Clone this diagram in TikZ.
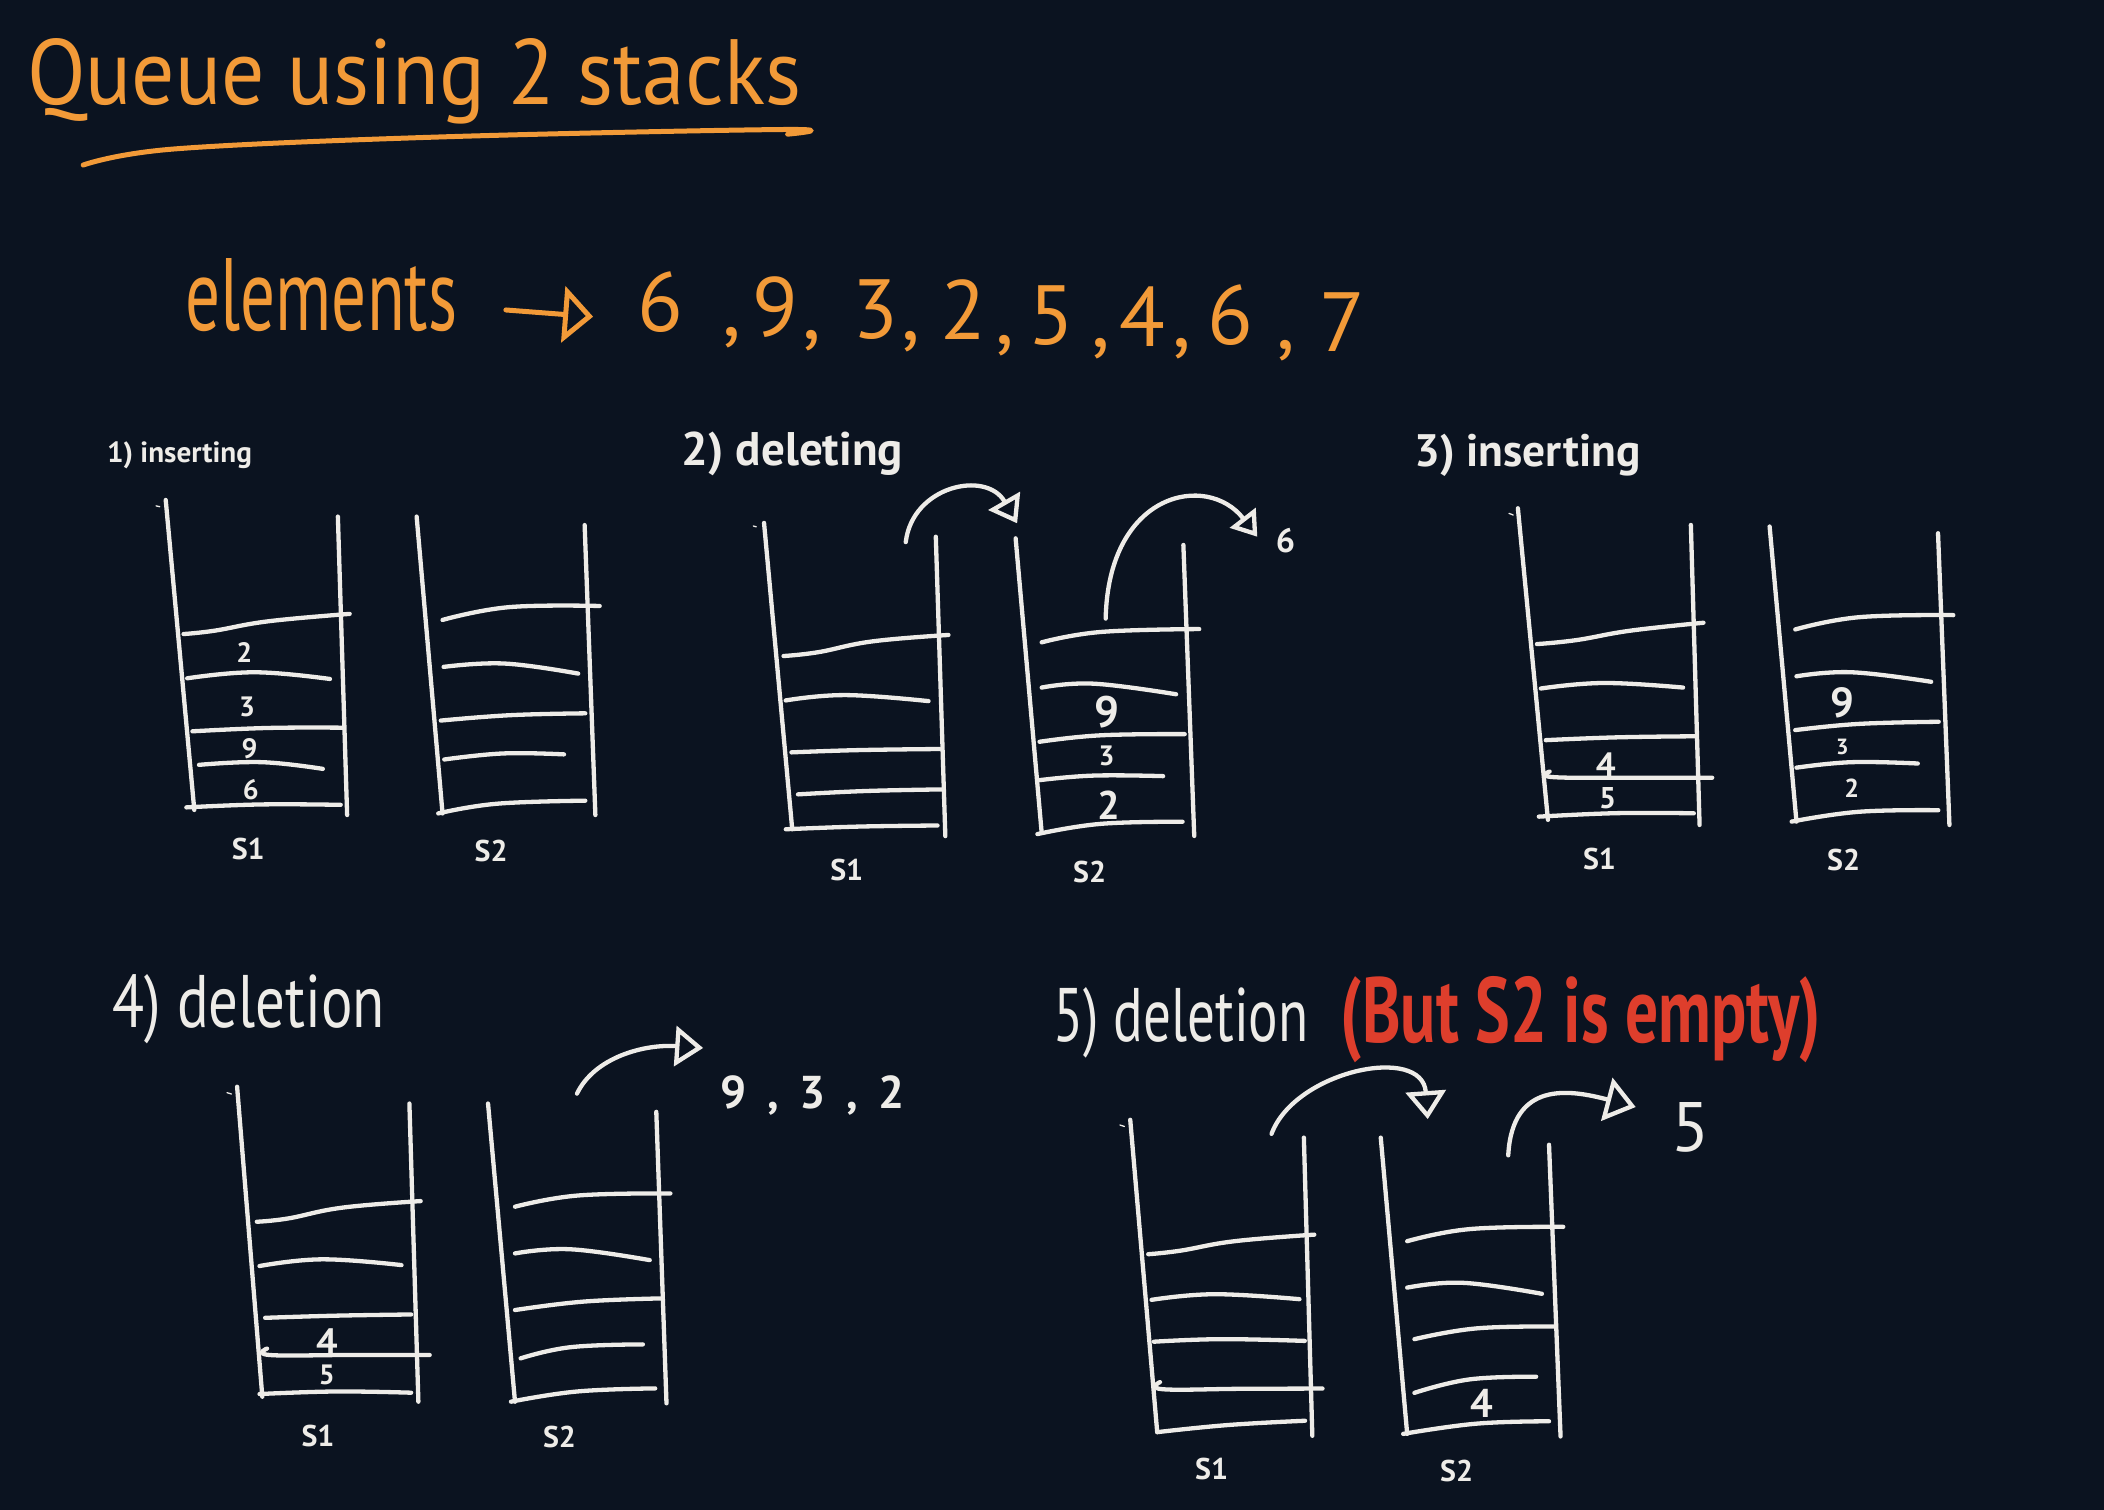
\documentclass[tikz,border=0pt]{standalone}
\usepackage{fontspec}
\setmainfont{PT Sans}
\usepackage{graphicx}
\usetikzlibrary{arrows.meta}
\definecolor{bg}{RGB}{11,19,32}
\definecolor{ink}{RGB}{238,236,232}
\definecolor{orng}{RGB}{242,154,56}
\definecolor{rd}{RGB}{222,62,44}
\newcommand\shelf[1]{\draw[wl] plot[smooth,tension=0.7] coordinates {#1};}
\newcommand\fitw[2]{\resizebox{#1pt}{!}{#2}}
\newcommand\cma{,}
\begin{document}
\begin{tikzpicture}[x=1.3418pt,y=-1.3418pt,
  wl/.style={draw=ink,line width=4.3pt,line cap=round,line join=round},
  ol/.style={draw=orng,line width=5pt,line cap=round,line join=round},
  tk/.style={draw=ink,line width=1.3pt,line cap=round},
  lbl/.style={text=ink,inner sep=0pt,anchor=base west,font=\bfseries},
  snm/.style={text=ink,inner sep=0pt,font=\bfseries\fontsize{30}{30}\selectfont},
  num/.style={text=ink,inner sep=0pt,font=\bfseries\fontsize{#1}{#1}\selectfont},
  num/.default=28,
  ahead/.style 2 args={-{Triangle[open,length=#1pt,width=#2pt]}}]
\fill[bg] (0,0) rectangle (1568,1125);
\useasboundingbox (0,0) rectangle (1568,1125);

% ---------- title ----------
\node[anchor=base west,inner sep=0pt,text=orng] (title) at (20,78)
  {\resizebox{774pt}{66pt}{\fontsize{60}{60}\selectfont Queue using 2 stacks}};
\draw[ol] plot[smooth,tension=0.6] coordinates {(62,123) (130,111) (330,102) (585,96.5) (587,100)};

% ---------- elements ----------
\node[anchor=base west,inner sep=0pt,text=orng] (elem) at (138,246)
  {\resizebox{272pt}{72pt}{\fontsize{60}{60}\selectfont elements}};
\coordinate (eaS) at (377,231);
\coordinate (eaE) at (442,236);
\draw[ol,ahead={30}{56}] (eaS) -- (eaE);
\foreach \x/\y/\t [count=\i] in {491.9/247/6, 545.5/250/\cma, 578.1/251/9, 605/252/\cma,
   652.5/252/3, 679/253/\cma, 717.8/253/2, 749.3/256/\cma, 783.2/257/5, 820.6/258/\cma,
   851.5/258/4, 881.2/258/\cma, 916.8/257/6, 958.4/260/\cma, 1000.1/262/7}
  \node[anchor=base,inner sep=0pt,text=orng,font=\fontsize{84}{84}\selectfont] (seq\i) at (\x,\y) {\t};

% ---------- 1) inserting ----------
\node[lbl] (l1) at (79.6,345) {\fitw{145}{1) inserting}};
\draw[tk] (116.3,377) -- (119,377.6);
\draw[wl] (123.5,372.6) -- (144.8,603.6);
\draw[wl] (251.8,385) -- (258.7,607.4);
\shelf{(136.8,472.5) (160,470) (200,463) (260.6,457.5)}
\shelf{(139.5,505.5) (190,501) (245.9,506)}
\shelf{(143.4,545) (200,542.5) (255.3,542.3)}
\shelf{(148.3,570) (195,568) (240.6,573)}
\shelf{(138.9,601.7) (195,599.5) (253.9,599.8)}
\node[num] (p1a) at (182,486) {2};
\node[num] (p1b) at (184.2,526.7) {3};
\node[num] (p1c) at (186,557.7) {9};
\node[num] (p1d) at (186.9,588.7) {6};
\draw[wl] (310.5,385) -- (329.8,606.2);
\draw[wl] (435.7,391.3) -- (443.7,607.4);
\shelf{(329.8,462) (379,452.5) (446.9,451.6)}
\shelf{(330.6,497) (376,494.5) (430.9,502)}
\shelf{(328.5,537) (380,533) (436.2,531.6)}
\shelf{(331.1,566) (375,561.5) (420.3,562.2)}
\shelf{(326.6,606.2) (370,599) (436.2,596.7)}
\node[snm] (s11) at (185,633) {S1};
\node[snm] (s12) at (366,634) {S2};

% ---------- 2) deleting ----------
\node[lbl] (l2) at (508,347) {\fitw{221}{2) deleting}};
\draw[tk] (561.4,392) -- (563.6,392.6);
\draw[wl] (569.4,389.7) -- (590.4,618);
\draw[wl] (697.4,400) -- (704.5,623.1);
\shelf{(583.9,488.9) (610,486) (650,478) (706.8,473.2)}
\shelf{(585.5,522) (630,518) (692,522.5)}
\shelf{(589.8,560.7) (640,559) (700.3,558.2)}
\shelf{(594.7,592) (645,589.5) (701.9,588.3)}
\shelf{(585.6,618) (640,616) (698.7,615.2)}
\draw[wl] (756.9,401.2) -- (776.3,620.6);
\draw[wl] (881.9,406.1) -- (890,623);
\shelf{(776.3,478.7) (820,471) (893.7,468.8)}
\shelf{(776.3,512.4) (815,509.5) (876.5,517.4)}
\shelf{(774.7,552.8) (820,548) (882.9,547.1)}
\shelf{(774.7,581.4) (815,578) (866.8,578.4)}
\shelf{(773.1,621.6) (820,614) (881.3,612.4)}
\node[num=44] (p2a) at (824.7,531) {9};
\node[num=28] (p2b) at (824.7,563) {3};
\node[num=40] (p2c) at (826.4,600) {2};
\coordinate (a2s) at (675,404);
\coordinate (a2e) at (758,390);
\draw[wl,ahead={26}{36}] (a2s) .. controls (680,362) and (735,350) .. (a2e);
\coordinate (b2s) at (824,461);
\coordinate (b2e) at (937,400);
\draw[wl,ahead={24}{32}] (b2s) .. controls (826,366) and (900,352) .. (b2e);
\node[num=34] (out2) at (958,403) {6};
\node[snm] (s21) at (631,648) {S1};
\node[snm] (s22) at (812,650) {S2};

% ---------- 3) inserting ----------
\node[lbl] (l3) at (1054,348) {\fitw{226}{3) inserting}};
\draw[tk] (1124.6,382.6) -- (1127.7,383.8);
\draw[wl] (1131.2,378.8) -- (1153.6,611);
\draw[wl] (1260.1,391.2) -- (1266.6,614.8);
\shelf{(1145.4,480) (1175,477) (1215,470) (1269.5,464.1)}
\shelf{(1148.3,513.1) (1195,509) (1254.3,512.4)}
\shelf{(1152,551.6) (1205,549.5) (1264,548.7)}
\shelf{(1154.8,575) (1157,579.1) (1215,579.6) (1276,579.6)}
\shelf{(1146.8,608.6) (1205,606) (1262.3,606.1)}
\node[num=35] (p3a) at (1196.7,570) {4};
\node[num=30] (p3b) at (1198,595) {5};
\draw[wl] (1318.8,392.4) -- (1338.8,612.3);
\draw[wl] (1444.3,397.4) -- (1452.8,614.8);
\shelf{(1337.9,469.1) (1385,460) (1455.7,458.4)}
\shelf{(1338.8,504) (1380,501) (1439.2,508.1)}
\shelf{(1337.9,544.1) (1385,539.5) (1444.8,537.9)}
\shelf{(1338.8,572.1) (1380,568) (1429.2,569)}
\shelf{(1335.2,612.3) (1385,605) (1444.5,603.8)}
\node[num=42] (p3c) at (1373,524) {9};
\node[num=22] (p3d) at (1373,557) {3};
\node[num=26] (p3e) at (1380,587.5) {2};
\node[snm] (s31) at (1192,640) {S1};
\node[snm] (s32) at (1374,641) {S2};

% ---------- 4) deletion ----------
\node[lbl,font=\mdseries] (l4) at (84,766) {\resizebox{272pt}{53pt}{4) deletion}};
\draw[tk] (169.2,814.3) -- (172.5,815.3);
\draw[wl] (176.7,809.9) -- (195.5,1040.9);
\draw[wl] (305.1,822.4) -- (311.8,1044.6);
\shelf{(191.4,910.5) (215,908) (255,900) (313.5,895.1)}
\shelf{(193.4,943.5) (240,938.5) (299.2,942.8)}
\shelf{(197.6,982.1) (250,980.5) (306.4,979.6)}
\shelf{(199,1005) (201,1009.8) (260,1009.8) (320.2,1009.8)}
\shelf{(193.4,1038.9) (250,1037) (306.4,1037.9)}
\node[num=38] (p4a) at (243.6,1000) {4};
\node[num=28] (p4b) at (243.6,1024.7) {5};
\draw[wl] (363.7,822.4) -- (383.8,1044.6);
\draw[wl] (489.1,828.6) -- (496.7,1045.8);
\shelf{(383.8,899.3) (430,891) (499.6,889.4)}
\shelf{(383.8,934.1) (425,931) (484.2,939.1)}
\shelf{(383.8,976.3) (435,970) (493.8,967.6)}
\shelf{(388,1012.3) (425,1004) (479.1,1001.9)}
\shelf{(380.8,1044.6) (430,1037) (488.3,1034.7)}
\coordinate (a4s) at (430,815);
\coordinate (a4e) at (524,781);
\draw[wl,ahead={28}{40}] (a4s) .. controls (443,788) and (480,778) .. (a4e);
\node[anchor=base west,inner sep=0pt,text=ink,font=\bfseries\fontsize{46}{46}\selectfont] (out4) at (537,826)
  {\spaceskip=0.45em 9 , 3 , 2};
\node[snm] (s41) at (237,1070) {S1};
\node[snm] (s42) at (417,1071) {S2};

% ---------- 5) deletion ----------
\node[lbl,font=\mdseries] (l5) at (785,776) {\resizebox{255pt}{54pt}{5) deletion}};
\node[anchor=base west,inner sep=0pt,text=rd,font=\bfseries] (l5b) at (999,777)
  {\resizebox{480pt}{66pt}{(But S2 is empty)}};
\draw[tk] (834.6,838.4) -- (838,839.5);
\draw[wl] (842.3,834.5) -- (862.4,1067.3);
\draw[wl] (971.7,847.8) -- (978,1070);
\shelf{(855.7,934.7) (880,932) (920,925) (979.5,920.1)}
\shelf{(858.2,968.7) (905,964.5) (968.4,968.2)}
\shelf{(859.9,999.9) (910,998) (972.4,999.3)}
\shelf{(864.5,1030) (866.5,1035.3) (925,1035) (985.6,1034.8)}
\shelf{(862.4,1067.3) (915,1062) (972.6,1058.8)}
\draw[wl] (1029,847.8) -- (1048.7,1068.6);
\draw[wl] (1154.4,853.1) -- (1163,1070.5);
\shelf{(1048.7,925) (1095,916) (1165,914.3)}
\shelf{(1048.7,959.6) (1090,956) (1149.1,964.2)}
\shelf{(1054.1,998) (1100,990) (1158.6,988.6)}
\shelf{(1054.1,1038) (1095,1028) (1144.8,1026)}
\shelf{(1045.7,1068.6) (1100,1061) (1154.4,1059.2)}
\node[num=40] (p5a) at (1104.3,1046) {4};
\coordinate (a5s) at (947.6,845);
\coordinate (a5e) at (1064,834);
\draw[wl,ahead={28}{40}] (a5s) .. controls (965,798) and (1060,778) .. (a5e);
\coordinate (b5s) at (1124,861);
\coordinate (b5e) at (1219,825);
\draw[wl,ahead={30}{44}] (b5s) .. controls (1127,805) and (1170,812) .. (b5e);
\node[text=ink,inner sep=0pt,font=\fontsize{70}{70}\selectfont] (out5) at (1260,840) {5};
\node[snm] (s51) at (903,1095) {S1};
\node[snm] (s52) at (1085.5,1096) {S2};
\end{tikzpicture}
\end{document}
